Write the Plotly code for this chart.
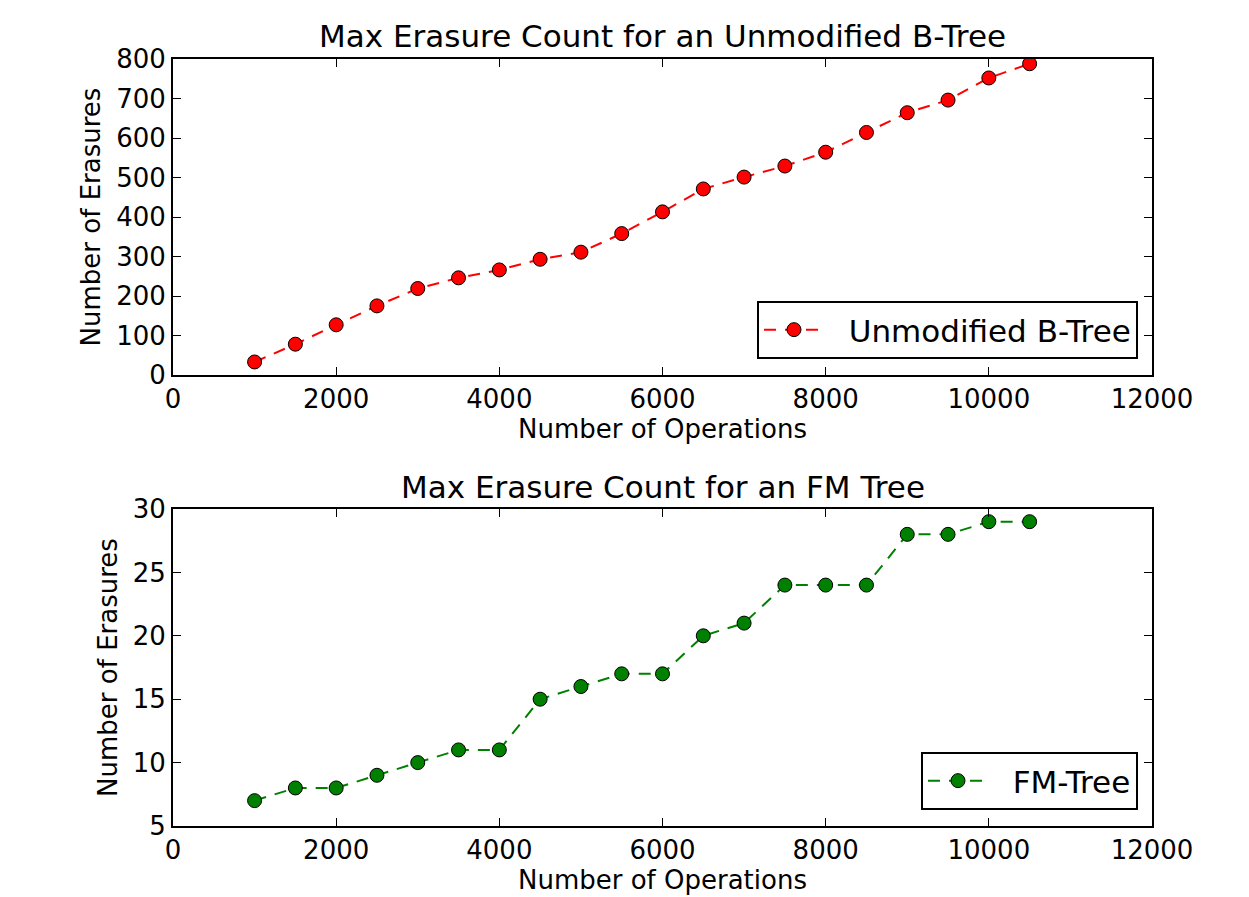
import plotly.graph_objects as go

ops = [1000, 1500, 2000, 2500, 3000, 3500, 4000, 4500, 5000, 5500, 6000,
       6500, 7000, 7500, 8000, 8500, 9000, 9500, 10000, 10500]
btree = [33, 78, 127, 175, 219, 246, 266, 293, 311, 358, 413,
         471, 501, 529, 564, 614, 664, 696, 752, 788]
fmtree = [7, 8, 8, 9, 10, 11, 11, 15, 16, 17, 17,
          20, 21, 24, 24, 24, 28, 28, 29, 29]

FONT = "DejaVu Sans"
W, H = 1249, 897
L, R, T, B = 173, 1152, 59, 826   # outer plot box in pixels
PW, PH = R - L, B - T
GAP = "\u00a0\u00a0"

def py(pix):  # pixel y -> paper y
    return (B - pix) / PH

def px(pix):
    return (pix - L) / PW

fig = go.Figure()
fig.add_trace(go.Scatter(
    x=ops, y=btree, mode="lines+markers", name=GAP + "Unmodified B-Tree",
    line=dict(color="#ff0000", width=2, dash="12px,9px"),
    marker=dict(size=14, color="#ff0000", line=dict(color="black", width=1)),
    xaxis="x", yaxis="y", legend="legend", showlegend=True))
fig.add_trace(go.Scatter(
    x=ops, y=fmtree, mode="lines+markers", name=GAP + "FM-Tree",
    line=dict(color="#008000", width=2, dash="12px,9px"),
    marker=dict(size=14, color="#008000", line=dict(color="black", width=1)),
    xaxis="x2", yaxis="y2", legend="legend2", showlegend=True))

top_d = [py(375), 1.0]
bot_d = [0.0, py(509)]

def xax(anchor):
    return dict(domain=[0, 1], range=[0, 12000], dtick=2000, tick0=0, anchor=anchor,
                tickformat="d",
                showline=True, linecolor="black", linewidth=2, mirror="ticks",
                ticks="inside", ticklen=8, tickwidth=1, tickcolor="black",
                showgrid=False, zeroline=False,
                tickfont=dict(size=26, color="black", family=FONT),
                title=dict(text="Number of Operations", standoff=4,
                           font=dict(size=26, color="black", family=FONT)))

def yax(anchor, dom, rng, dt):
    return dict(domain=dom, range=rng, dtick=dt, tick0=0, anchor=anchor,
                showline=True, linecolor="black", linewidth=2, mirror="ticks",
                ticks="inside", ticklen=8, tickwidth=1, tickcolor="black",
                showgrid=False, zeroline=False,
                tickfont=dict(size=26, color="black", family=FONT),
                title=dict(text="Number of Erasures", standoff=8,
                           font=dict(size=26, color="black", family=FONT)))

leg = dict(xanchor="right", yanchor="bottom", bgcolor="white",
           bordercolor="black", borderwidth=2,
           font=dict(size=31, family=FONT, color="black"), itemwidth=60)

fig.update_layout(
    width=W, height=H,
    margin=dict(l=L, r=W - R, t=T, b=H - B, autoexpand=False),
    paper_bgcolor="white", plot_bgcolor="white",
    font=dict(family=FONT, color="black"),
    showlegend=True,
    xaxis=xax("y"), yaxis=yax("x", top_d, [0, 800], 100),
    xaxis2=xax("y2"), yaxis2=yax("x2", bot_d, [5, 30], 5),
    legend=dict(leg, x=px(1138), y=py(359)),
    legend2=dict(leg, x=px(1138), y=py(810)),
    annotations=[
        dict(text="Max Erasure Count for an Unmodified B-Tree", x=0.5,
             y=py(56), xref="paper", yref="paper", xanchor="center",
             yanchor="bottom", showarrow=False,
             font=dict(size=31, family=FONT, color="black")),
        dict(text="Max Erasure Count for an FM Tree", x=0.5,
             y=py(507), xref="paper", yref="paper", xanchor="center",
             yanchor="bottom", showarrow=False,
             font=dict(size=31, family=FONT, color="black")),
    ],
)

fig.write_html("out.html")
